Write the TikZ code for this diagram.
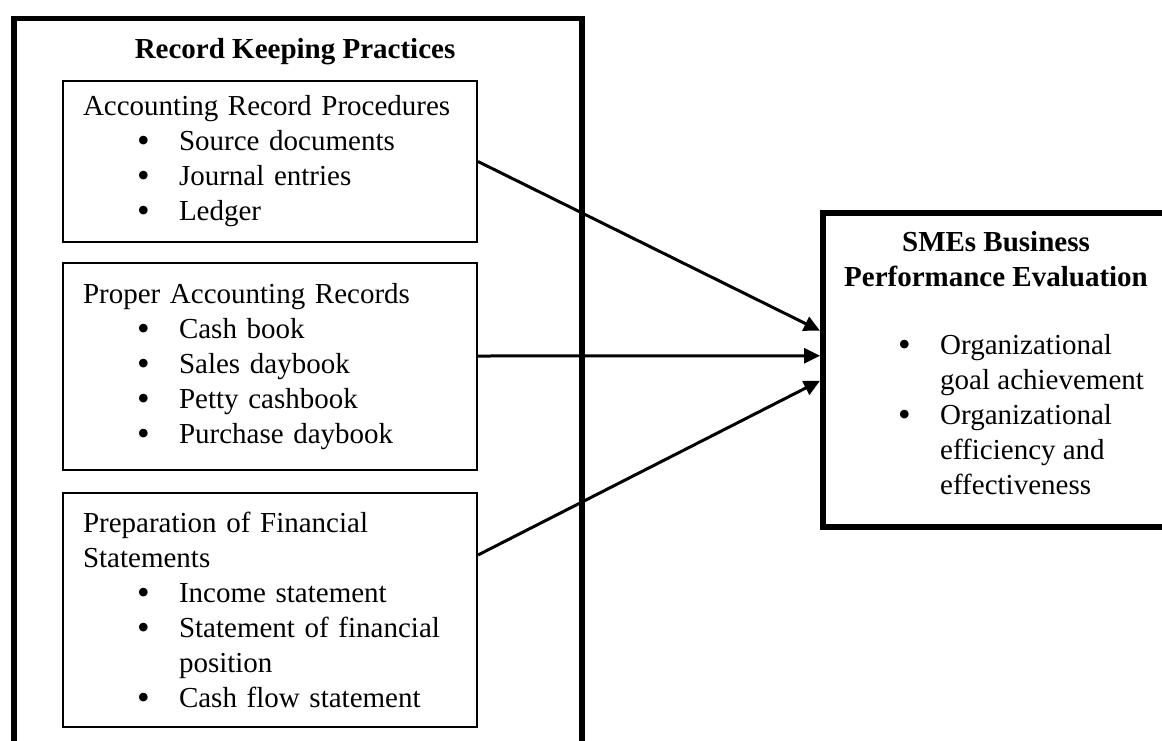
\documentclass[tikz,border=0pt]{standalone}
\usepackage{fontspec}
\setmainfont{Liberation Serif}
\usetikzlibrary{positioning,arrows.meta}

\newcommand{\blt}{\makebox[42pt][l]{\smash{\raisebox{-2pt}{\fontsize{36}{35}\selectfont\textbullet}}}}
\newcommand{\itm}[1]{\\\hspace*{54pt}\blt#1}
\newcommand{\cnt}[1]{\\\hspace*{96pt}#1}

\tikzset{
  txt/.style={font=\fontsize{29}{35}\selectfont, inner sep=0pt},
  inbox/.style={draw, line width=2pt, txt, align=left, text width=374pt,
                inner xsep=20pt, minimum width=414pt},
  bigbox/.style={draw, line width=5.5pt, anchor=north west},
  arr/.style={line width=3pt, -{Triangle[length=16pt,width=15pt]}}
}

\begin{document}
\begin{tikzpicture}[x=1pt,y=-1pt]
\useasboundingbox (0,0) rectangle (1162,740);
\clip (0,0) rectangle (1162,740);

% left block
\node[bigbox, minimum width=568pt, minimum height=760pt] (rkp) at (11,15.5) {};
\node[txt, font=\fontsize{29}{35}\selectfont\bfseries] (rkptitle) at (295,52) {Record Keeping Practices};

\node[inbox, minimum height=161pt, anchor=north west] (acp) at (62,80) {%
Accounting Record Procedures
\itm{Source documents}
\itm{Journal entries}
\itm{Ledger}};

\node[inbox, minimum height=207pt, below=19pt of acp] (par) {%
Proper Accounting Records
\itm{Cash book}
\itm{Sales daybook}
\itm{Petty cashbook}
\itm{Purchase daybook}};

\node[inbox, minimum height=234pt, below=21pt of par] (pfs) {%
Preparation of Financial\\
Statements
\itm{Income statement}
\itm{Statement of financial}
\cnt{position}
\itm{Cash flow statement}};

% right block
\node[bigbox, minimum width=352pt, minimum height=314pt] (sme) at (820,210) {};
\node[txt, font=\fontsize{29}{35}\selectfont\bfseries, align=center] (smetitle) at (996,259.5)
  {SMEs Business\\Performance Evaluation};
\node[txt, align=left, anchor=west] (smelist) at (898,415) {%
\blt Organizational\\
\hspace*{42pt}goal achievement\\
\blt Organizational\\
\hspace*{42pt}efficiency and\\
\hspace*{42pt}effectiveness};

% arrows
\draw[arr] (acp.east) -- ([yshift=39pt]sme.west);
\draw[arr] ([yshift=10.5pt]par.east) -- ([yshift=14pt]sme.west);
\draw[arr] ([yshift=55pt]pfs.east) -- ([yshift=-11pt]sme.west);
\end{tikzpicture}
\end{document}
